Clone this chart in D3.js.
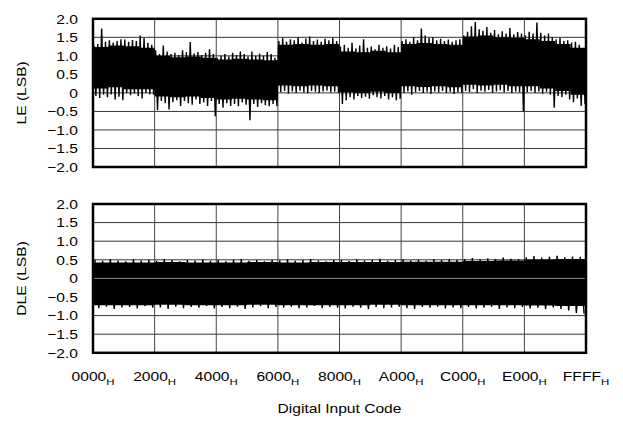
<!DOCTYPE html>
<html>
<head>
<meta charset="utf-8">
<script src="https://cdn.jsdelivr.net/npm/d3@7"></script>
<style>
html,body{margin:0;padding:0;background:#fff;}
svg{display:block;}
text{font-family:"Liberation Sans",Arial,Helvetica,sans-serif;fill:#000;}
</style>
</head>
<body>
<svg id="chart" width="623" height="422"></svg>
<script>
// ---------- data ----------
const xTickCodes = [0x0000, 0x2000, 0x4000, 0x6000, 0x8000, 0xA000, 0xC000, 0xE000, 0xFFFF];
const xTickLabels = ["0000", "2000", "4000", "6000", "8000", "A000", "C000", "E000", "FFFF"];
const yTicks = [-2, -1.5, -1, -0.5, 0, 0.5, 1, 1.5, 2];
const yTickLabels = ["\u22122.0", "\u22121.5", "\u22121.0", "\u22120.5", "0", "0.5", "1.0", "1.5", "2.0"];

// LE: extreme max / min per 512-code bin (128 bins)
const leHi = [
  1.28,1.32,1.74,1.38,1.42,1.36,1.40,1.45,1.44,1.38,1.43,1.40,1.55,1.48,1.35,1.30,
  1.15,1.05,1.28,1.12,1.05,1.08,1.02,1.15,1.10,1.37,1.06,1.10,1.02,1.08,1.18,1.05,
  0.95,1.00,1.05,0.98,1.08,1.02,1.12,1.05,0.98,1.12,1.00,1.06,1.00,1.10,1.05,0.95,
  1.40,1.48,1.38,1.45,1.42,1.50,1.36,1.47,1.52,1.40,1.44,1.38,1.46,1.42,1.48,1.40,
  1.25,1.30,1.22,1.35,1.20,1.28,1.45,1.22,1.25,1.18,1.30,1.22,1.26,1.20,1.30,1.24,
  1.40,1.45,1.38,1.50,1.42,1.74,1.55,1.48,1.50,1.42,1.46,1.40,1.44,1.38,1.42,1.45,
  1.55,1.65,1.80,1.91,1.72,1.68,1.78,1.62,1.70,1.58,1.66,1.60,1.75,1.58,1.64,1.60,
  1.55,1.65,1.60,1.90,1.62,1.55,1.60,1.50,1.45,1.48,1.40,1.42,1.36,1.38,1.30,1.20
];
const leLo = [
  -0.08,-0.14,-0.05,-0.12,-0.04,-0.18,-0.10,-0.20,0.00,-0.06,-0.02,-0.08,-0.15,0.00,-0.04,-0.05,
  -0.47,-0.22,-0.28,-0.45,-0.25,-0.20,-0.35,-0.22,-0.28,-0.32,-0.18,-0.30,-0.26,-0.35,-0.22,-0.63,
  -0.30,-0.40,-0.28,-0.35,-0.30,-0.36,-0.26,-0.32,-0.74,-0.30,-0.38,-0.28,-0.33,-0.36,-0.30,-0.36,
  0.02,0.05,-0.02,0.04,0.00,0.06,0.02,-0.01,0.05,0.03,0.00,0.04,0.06,0.01,0.03,0.00,
  -0.30,-0.20,-0.12,-0.18,-0.08,-0.14,-0.10,-0.16,-0.06,-0.12,-0.15,-0.08,-0.18,-0.12,-0.20,-0.16,
  0.00,0.04,-0.05,0.02,0.05,0.00,0.03,-0.02,0.04,0.01,0.05,0.00,0.03,-0.03,0.02,0.00,
  0.05,0.02,0.10,0.00,0.06,0.03,0.08,0.00,0.04,0.07,0.02,0.05,0.00,0.04,0.02,-0.50,
  0.02,0.05,0.00,0.04,-0.02,0.03,-0.05,-0.40,-0.08,-0.12,-0.05,-0.18,-0.25,-0.15,-0.35,-0.30
];
// LE: solid band edges per 2048-code bin (32 bins)
const leCoreHi = [1.24,1.28,1.26,1.22, 1.00,0.96,0.98,0.95, 0.90,0.92,0.90,0.88, 1.30,1.32,1.30,1.32,
                  1.12,1.10,1.14,1.10, 1.32,1.35,1.32,1.30, 1.52,1.55,1.50,1.48, 1.45,1.40,1.32,1.22];
const leCoreLo = [0.12,0.15,0.10,0.10, -0.10,-0.12,-0.10,-0.14, -0.18,-0.16,-0.18,-0.20, 0.20,0.18,0.20,0.18,
                  0.02,0.00,0.03,0.00, 0.18,0.16,0.18,0.15, 0.22,0.20,0.22,0.18, 0.18,0.12,0.05,-0.05];

// DLE: extreme max / min per 1024-code bin (64 bins)
const dleHi = [
  0.50,0.47,0.52,0.48,0.46,0.51,0.48,0.50, 0.47,0.52,0.49,0.46,0.50,0.48,0.51,0.47,
  0.49,0.46,0.50,0.52,0.47,0.49,0.46,0.50, 0.48,0.51,0.47,0.49,0.52,0.48,0.46,0.50,
  0.49,0.47,0.51,0.48,0.50,0.53,0.47,0.49, 0.51,0.48,0.50,0.47,0.52,0.49,0.51,0.50,
  0.52,0.55,0.51,0.54,0.52,0.56,0.53,0.51, 0.57,0.60,0.56,0.58,0.61,0.57,0.59,0.58
];
const dleLo = [
  -0.80,-0.76,-0.82,-0.78,-0.77,-0.81,-0.75,-0.79, -0.78,-0.82,-0.76,-0.80,-0.77,-0.79,-0.74,-0.81,
  -0.77,-0.80,-0.76,-0.82,-0.78,-0.75,-0.80,-0.77, -0.79,-0.76,-0.81,-0.78,-0.74,-0.80,-0.77,-0.79,
  -0.81,-0.76,-0.79,-0.83,-0.77,-0.80,-0.78,-0.76, -0.80,-0.82,-0.77,-0.79,-0.76,-0.81,-0.78,-0.80,
  -0.77,-0.81,-0.79,-0.76,-0.82,-0.78,-0.80,-0.77, -0.81,-0.79,-0.83,-0.78,-0.82,-0.86,-0.93,-0.95
];
// DLE: solid band edges per 4096-code bin (16 bins)
const dleCoreHi = [0.43,0.43,0.44,0.43, 0.43,0.44,0.43,0.44, 0.44,0.44,0.45,0.45, 0.47,0.48,0.51,0.52];
const dleCoreLo = [-0.72,-0.72,-0.71,-0.72, -0.72,-0.71,-0.72,-0.72, -0.72,-0.71,-0.72,-0.72, -0.72,-0.72,-0.73,-0.74];

// ---------- drawing ----------
const svg = d3.select("#chart");
svg.append("rect").attr("width", 623).attr("height", 422).attr("fill", "#fff");

const X0 = 93, X1 = 586;
const x = d3.scaleLinear().domain([0, 0xFFFF]).range([X0, X1]);
const SX = 1.2; // horizontal stretch of the reference lettering

function drawPanel(top, bottom, hi, lo, coreHi, coreLo, title, grayZero) {
  const y = d3.scaleLinear().domain([-2, 2]).range([bottom, top]);
  const g = svg.append("g");

  // grid
  g.selectAll(".hg").data(yTicks).join("line")
    .attr("x1", X0).attr("x2", X1)
    .attr("y1", d => y(d)).attr("y2", d => y(d))
    .attr("stroke", "#333").attr("stroke-width", 1);
  g.selectAll(".vg").data(xTickCodes).join("line")
    .attr("x1", d => x(d)).attr("x2", d => x(d))
    .attr("y1", top).attr("y2", bottom)
    .attr("stroke", "#444").attr("stroke-width", 1);

  // solid band
  const m = coreHi.length, cw = 65536 / m;
  const corePts = coreHi.map((h, i) => ({c: i * cw, h: h, l: coreLo[i]}));
  corePts.push({c: 0xFFFF, h: coreHi[m - 1], l: coreLo[m - 1]});
  g.append("path").datum(corePts)
    .attr("d", d3.area().curve(d3.curveStepAfter)
      .x(d => x(d.c)).y0(d => y(d.l)).y1(d => y(d.h)))
    .attr("fill", "#000");

  // noisy trace: zig-zag through each bin's max and min
  const n = hi.length, bw = 65536 / n;
  const pts = [];
  hi.forEach((h, i) => {
    pts.push({c: i * bw + bw * 0.25, v: h});
    pts.push({c: Math.min(i * bw + bw * 0.75, 0xFFFF), v: lo[i]});
  });
  g.append("path").datum(pts)
    .attr("d", d3.line().x(d => x(d.c)).y(d => y(d.v)))
    .attr("fill", "none").attr("stroke", "#000").attr("stroke-width", 1.4)
    .attr("stroke-linejoin", "miter").attr("stroke-miterlimit", 1);

  if (grayZero) {
    g.append("line").attr("x1", X0).attr("x2", X1)
      .attr("y1", y(0)).attr("y2", y(0))
      .attr("stroke", "#8a8a8a").attr("stroke-width", 1);
  }

  // frame
  g.append("rect").attr("x", X0).attr("y", top)
    .attr("width", X1 - X0).attr("height", bottom - top)
    .attr("fill", "none").attr("stroke", "#000").attr("stroke-width", 2.5);

  // y tick labels
  g.selectAll(".yl").data(yTicks).join("text")
    .attr("transform", d => `translate(78,${y(d) + 4.7}) scale(${SX},1)`)
    .attr("text-anchor", "end").attr("font-size", 13)
    .text((d, i) => yTickLabels[i]);

  // y title
  g.append("text")
    .attr("transform", `translate(25.5,${(top + bottom) / 2}) rotate(-90) scale(${SX},1)`)
    .attr("text-anchor", "middle").attr("font-size", 13)
    .text(title);
}

drawPanel(18.8, 167, leHi, leLo, leCoreHi, leCoreLo, "LE (LSB)", false);
drawPanel(204, 352.8, dleHi, dleLo, dleCoreHi, dleCoreLo, "DLE (LSB)", true);

// x tick labels with subscript H
const xl = svg.selectAll(".xl").data(xTickCodes).join("text")
  .attr("transform", d => `translate(${x(d)},381) scale(${SX},1)`)
  .attr("text-anchor", "middle").attr("font-size", 13);
xl.append("tspan").text((d, i) => xTickLabels[i]);
xl.append("tspan").attr("font-size", 9.5).attr("dy", 4).text("H");

// x title
svg.append("text")
  .attr("transform", `translate(${(X0 + X1) / 2},412.5) scale(${SX},1)`)
  .attr("text-anchor", "middle").attr("font-size", 13)
  .text("Digital Input Code");
</script>
</body>
</html>
